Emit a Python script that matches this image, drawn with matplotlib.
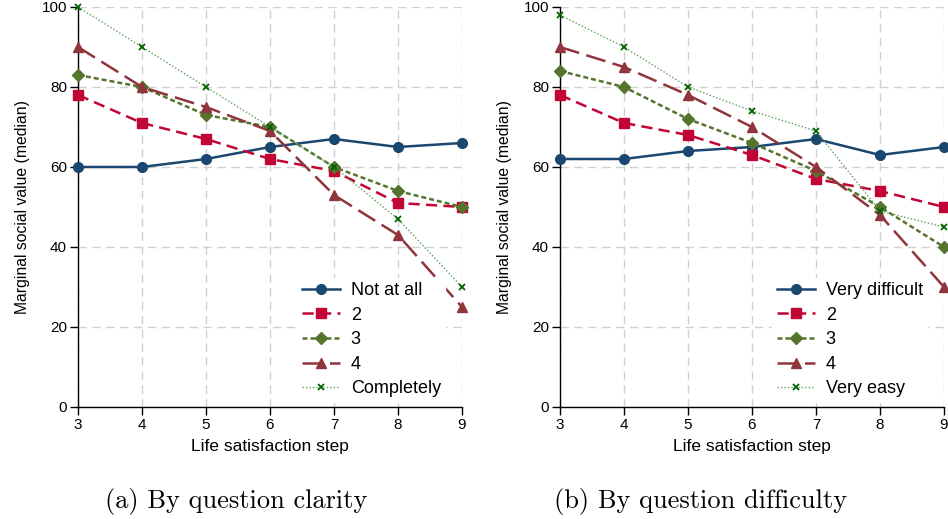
import matplotlib
matplotlib.use("Agg")
import matplotlib.pyplot as plt

steps = [3, 4, 5, 6, 7, 8, 9]

# Panel (a): by question clarity
clarity_labels = ["Not at all", "2", "3", "4", "Completely"]
clarity_not_at_all = [60, 60, 62, 65, 67, 65, 66]
clarity_2 = [78, 71, 67, 62, 59, 51, 50]
clarity_3 = [83, 80, 73, 70, 60, 54, 50]
clarity_4 = [90, 80, 75, 69, 53, 43, 25]
clarity_completely = [100, 90, 80, 70, 60, 47, 30]

# Panel (b): by question difficulty
difficulty_labels = ["Very difficult", "2", "3", "4", "Very easy"]
difficulty_very_difficult = [62, 62, 64, 65, 67, 63, 65]
difficulty_2 = [78, 71, 68, 63, 57, 54, 50]
difficulty_3 = [84, 80, 72, 66, 59, 50, 40]
difficulty_4 = [90, 85, 78, 70, 60, 48, 30]
difficulty_very_easy = [98, 90, 80, 74, 69, 49, 45]

yticks = [0, 20, 40, 60, 80, 100]
xlabel = "Life satisfaction step"
ylabel = "Marginal social value (median)"
captions = ["(a) By question clarity", "(b) By question difficulty"]

plt.rcParams['font.family'] = ['Liberation Sans', 'DejaVu Sans']

styles = [
    dict(color="#1a476f", linestyle="-", marker="o", markersize=7, linewidth=1.8),
    dict(color="#c10534", linestyle=(0, (4.5, 2.5)), marker="s", markersize=6.5, linewidth=1.8),
    dict(color="#55752f", linestyle=(0, (2, 1.2)), marker="D", markersize=6, linewidth=1.8),
    dict(color="#90353b", linestyle=(0, (8, 3)), marker="^", markersize=7.5, linewidth=1.8),
    dict(color="#5aa05a", linestyle=(0, (1, 1.5)), marker="x", markersize=5,
         markeredgecolor="#006400", markeredgewidth=1.3, linewidth=1.0),
]

fig = plt.figure(figsize=(9.48, 5.19), dpi=100)
W, H = 948, 519
panels = [
    (78, 236, clarity_labels, [clarity_not_at_all, clarity_2, clarity_3, clarity_4, clarity_completely]),
    (560, 701, difficulty_labels, [difficulty_very_difficult, difficulty_2, difficulty_3, difficulty_4, difficulty_very_easy]),
]
for i, (x0, cx, labels, series) in enumerate(panels):
    ax = fig.add_axes([x0 / W, (H - 407) / H, 384 / W, 400 / H])
    for lab, vals, st in zip(labels, series, styles):
        ax.plot(steps, vals, label=lab, clip_on=False, zorder=3, **st)
    ax.set_xlim(3, 9)
    ax.set_ylim(0, 100)
    ax.set_xticks(steps)
    ax.set_yticks(yticks)
    ax.grid(True, color="#d0d0d0", linestyle=(0, (6, 4)), linewidth=1.0)
    ax.set_axisbelow(True)
    for s in ["top", "right"]:
        ax.spines[s].set_visible(False)
    ax.spines["left"].set_linewidth(1.0)
    ax.spines["bottom"].set_linewidth(1.0)
    ax.tick_params(labelsize=11, length=6, width=1.0, pad=2)
    ax.set_xlabel(xlabel, fontsize=12.5, labelpad=5)
    ax.set_ylabel(ylabel, fontsize=11.3, labelpad=8)
    leg = ax.legend(loc="lower right", fontsize=13, frameon=True, framealpha=1.0,
                    edgecolor="white", fancybox=False, handlelength=2.1,
                    labelspacing=0.42, borderpad=0.25, handletextpad=0.6,
                    bbox_to_anchor=(0.98, -0.01))
    leg.set_zorder(5)
    fig.text(cx / W, 1 - 508 / H, captions[i], ha="center", va="baseline",
             fontsize=19, family=["cmr10", "DejaVu Serif"])

fig.savefig("out.png", dpi=100)
